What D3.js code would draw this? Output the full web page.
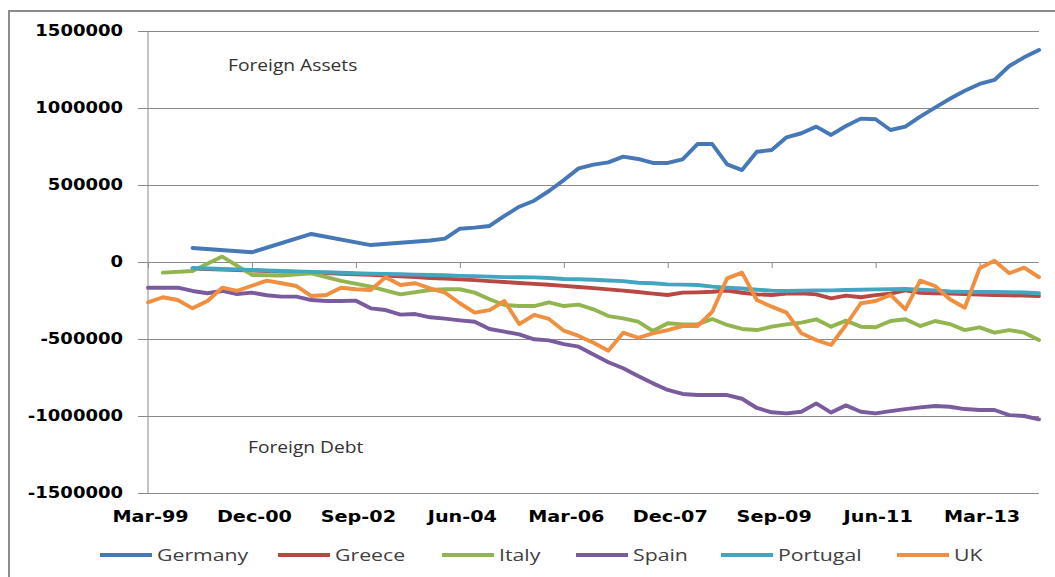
<!DOCTYPE html>
<html>
<head>
<meta charset="utf-8">
<script src="https://cdn.jsdelivr.net/npm/d3@7"></script>
<style>
  body { margin: 0; background: #fff; }
  svg { display: block; }
</style>
</head>
<body>
<script>
var quarters = ["Mar-99","Jun-99","Sep-99","Dec-99","Mar-00","Jun-00","Sep-00","Dec-00",
  "Mar-01","Jun-01","Sep-01","Dec-01","Mar-02","Jun-02","Sep-02","Dec-02",
  "Mar-03","Jun-03","Sep-03","Dec-03","Mar-04","Jun-04","Sep-04","Dec-04",
  "Mar-05","Jun-05","Sep-05","Dec-05","Mar-06","Jun-06","Sep-06","Dec-06",
  "Mar-07","Jun-07","Sep-07","Dec-07","Mar-08","Jun-08","Sep-08","Dec-08",
  "Mar-09","Jun-09","Sep-09","Dec-09","Mar-10","Jun-10","Sep-10","Dec-10",
  "Mar-11","Jun-11","Sep-11","Dec-11","Mar-12","Jun-12","Sep-12","Dec-12",
  "Mar-13","Jun-13","Sep-13","Dec-13","Mar-14"];

var tickLabels = ["Mar-99","Dec-00","Sep-02","Jun-04","Mar-06","Dec-07","Sep-09","Jun-11","Mar-13"];
var yTicks = [1500000, 1000000, 500000, 0, -500000, -1000000, -1500000];

var germany = [null,null,null,91000,null,null,null,63000,null,null,null,182000,null,null,null,110000,
  null,null,null,140000,152000,216000,223000,234000,299000,359000,398000,461000,532000,608000,
  632000,647000,684000,669000,643000,643000,667000,766000,766000,634000,597000,716000,727000,
  810000,836000,879000,825000,883000,931000,927000,857000,879000,944000,1002000,1060000,
  1112000,1156000,1182000,1273000,1329000,1377000];

var greece = [null,null,null,-43000,-46000,-49000,-52000,-55000,-58000,-62000,-65000,-68000,-72000,
  -76000,-80000,-83000,-88000,-93000,-98000,-104000,-108000,-113000,-118000,-124000,-130000,
  -136000,-142000,-148000,-155000,-162000,-170000,-178000,-186000,-195000,-205000,-214000,
  -199000,-197000,-193000,-185000,-200000,-210000,-214000,-205000,-203000,-210000,-236000,
  -218000,-229000,-215000,-205000,-184000,-200000,-203000,-205000,-208000,-212000,-214000,
  -216000,-218000,-221000];

var italy = [null,-69000,null,-58000,null,35000,null,-84000,null,-88000,null,-73000,null,-123000,
  null,-160000,null,-210000,null,-182000,-177000,-177000,-199000,-242000,-279000,-286000,
  -286000,-262000,-286000,-277000,-307000,-351000,-366000,-387000,-448000,-398000,-405000,
  -405000,-370000,-409000,-435000,-442000,-420000,-405000,-394000,-372000,-420000,-381000,
  -420000,-424000,-383000,-372000,-416000,-383000,-403000,-442000,-424000,-459000,-442000,
  -459000,-507000];

var spain = [-167000,-167000,-167000,-188000,-203000,-188000,-208000,-199000,-216000,-225000,
  -225000,-247000,-253000,-253000,-251000,-301000,-312000,-342000,-338000,-359000,-368000,
  -379000,-388000,-435000,-452000,-470000,-502000,-509000,-533000,-550000,-600000,-651000,
  -690000,-740000,-788000,-831000,-857000,-864000,-864000,-864000,-888000,-948000,-976000,
  -983000,-972000,-918000,-978000,-931000,-972000,-983000,-968000,-955000,-944000,-935000,
  -940000,-955000,-961000,-961000,-994000,-1000000,-1022000];

var portugal = [null,null,null,-39000,-42000,-45000,-48000,-52000,-55000,-58000,-61000,-64000,
  -67000,-70000,-73000,-76000,-78000,-80000,-82000,-84000,-86000,-90000,-92000,-95000,-98000,
  -99000,-100000,-104000,-110000,-112000,-115000,-120000,-124000,-135000,-138000,-145000,
  -147000,-149000,-160000,-167000,-172000,-180000,-186000,-188000,-186000,-184000,-184000,
  -182000,-180000,-178000,-177000,-175000,-180000,-184000,-192000,-194000,-195000,-195000,
  -196000,-198000,-203000];

var uk = [-262000,-229000,-247000,-301000,-253000,-167000,-188000,-154000,-121000,-138000,
  -156000,-221000,-214000,-167000,-177000,-182000,-99000,-149000,-138000,-171000,-199000,
  -268000,-329000,-312000,-253000,-403000,-344000,-370000,-446000,-480000,-524000,-576000,
  -459000,-492000,-463000,-442000,-416000,-416000,-323000,-106000,-69000,-247000,-290000,
  -329000,-463000,-507000,-539000,-409000,-268000,-253000,-214000,-307000,-121000,-156000,
  -242000,-297000,-41000,8000,-73000,-37000,-99000];

var seriesNames = ["Germany", "Greece", "Italy", "Spain", "Portugal", "UK"];
var seriesValues = [germany, greece, italy, spain, portugal, uk];
var seriesColors = ["#4677b6", "#b94744", "#93b550", "#7a5c9e", "#43a6c1", "#f08f40"];

var chart = (function() {
    var w = 1055, h = 577;
    var plotL = 148, plotR = 1039, plotT = 31, plotB = 493;

    var svg = d3.select("body")
                .append("svg")
                .attr("width", w)
                .attr("height", h);

    // widen text a bit, the original is drawn stretched
    var stretch = function(sel, k) {
        sel.each(function() {
            var len = this.getComputedTextLength();
            d3.select(this)
              .attr("textLength", len * k)
              .attr("lengthAdjust", "spacingAndGlyphs");
        });
    };

    svg.append("rect")
        .attr("x", 9)
        .attr("y", 11)
        .attr("width", 1100)
        .attr("height", 700)
        .attr("fill", "none")
        .attr("stroke", "#8c8c8c")
        .attr("stroke-width", 2);

    var xScale = d3.scalePoint()
                    .domain(quarters)
                    .range([plotL, plotR]);

    var yScale = d3.scaleLinear()
                    .domain([-1500000, 1500000])
                    .range([plotB, plotT]);

    // gridlines + y labels
    var yAxis = d3.axisLeft(yScale)
                .tickValues(yTicks)
                .tickSize(-(plotR - (plotL - 10)))
                .tickPadding(15)
                .tickFormat(d => String(d));

    var yG = svg.append("g")
        .attr("transform", "translate(" + (plotL - 10) + ",0)")
        .call(yAxis);

    yG.select(".domain").remove();
    yG.selectAll("line").attr("stroke", "#8a8a8a").attr("stroke-width", 1);
    yG.selectAll("text")
        .attr("font-family", "DejaVu Sans")
        .attr("font-weight", "bold")
        .attr("font-size", 15)
        .attr("fill", "#000")
        .call(stretch, 1.2);

    svg.append("line")
        .attr("x1", plotL).attr("x2", plotL)
        .attr("y1", plotT).attr("y2", plotB)
        .attr("stroke", "#8a8a8a")
        .attr("stroke-width", 1);

    // tick marks on the zero line
    var xTicks = d3.axisBottom(xScale)
                .tickValues(tickLabels)
                .tickSize(6)
                .tickFormat("");

    var xTickG = svg.append("g")
        .attr("transform", "translate(0," + yScale(0) + ")")
        .call(xTicks);
    xTickG.select(".domain").remove();
    xTickG.selectAll("line").attr("stroke", "#8a8a8a");

    // x labels at the bottom
    var xLabels = d3.axisBottom(xScale)
                .tickValues(tickLabels)
                .tickSize(0)
                .tickPadding(18);

    var xLabG = svg.append("g")
        .attr("transform", "translate(2," + plotB + ")")
        .call(xLabels);
    xLabG.select(".domain").remove();
    xLabG.selectAll("text")
        .attr("font-family", "DejaVu Sans")
        .attr("font-weight", "bold")
        .attr("font-size", 15)
        .attr("fill", "#000")
        .call(stretch, 1.28);

    // lines
    var line = d3.line()
                .x(d => xScale(d.q))
                .y(d => yScale(d.v));

    var lineGroup = svg.append("g");

    seriesValues.forEach(function(vals, k) {
        var pts = [];
        for (var i = 0; i < vals.length; i++) {
            if (vals[i] !== null) pts.push({q: quarters[i], v: vals[i]});
        }
        lineGroup.append("path")
            .datum(pts)
            .attr("d", line)
            .attr("fill", "none")
            .attr("stroke", seriesColors[k])
            .attr("stroke-width", 3.9)
            .attr("stroke-linejoin", "round")
            .attr("stroke-linecap", "round");
    });

    // annotations
    svg.append("text")
        .attr("x", 228).attr("y", 71)
        .attr("font-family", "Open Sans")
        .attr("font-size", 16)
        .attr("fill", "#333")
        .text("Foreign Assets")
        .call(stretch, 1.2);

    svg.append("text")
        .attr("x", 248).attr("y", 453)
        .attr("font-family", "Open Sans")
        .attr("font-size", 16)
        .attr("fill", "#333")
        .text("Foreign Debt")
        .call(stretch, 1.2);

    // legend
    var legendX = [100, 278, 442, 576, 721, 897];
    var legend = svg.append("g").attr("transform", "translate(0,555)");

    seriesNames.forEach(function(name, k) {
        var g = legend.append("g").attr("transform", "translate(" + legendX[k] + ",0)");
        g.append("line")
            .attr("x1", 0).attr("x2", 52)
            .attr("y1", 0).attr("y2", 0)
            .attr("stroke", seriesColors[k])
            .attr("stroke-width", 3.9);
        g.append("text")
            .attr("x", 57)
            .attr("y", 6)
            .attr("font-family", "Open Sans")
            .attr("font-size", 17)
            .attr("fill", "#404040")
            .text(name)
            .call(stretch, 1.25);
    });

    return svg;
})();
</script>
</body>
</html>
